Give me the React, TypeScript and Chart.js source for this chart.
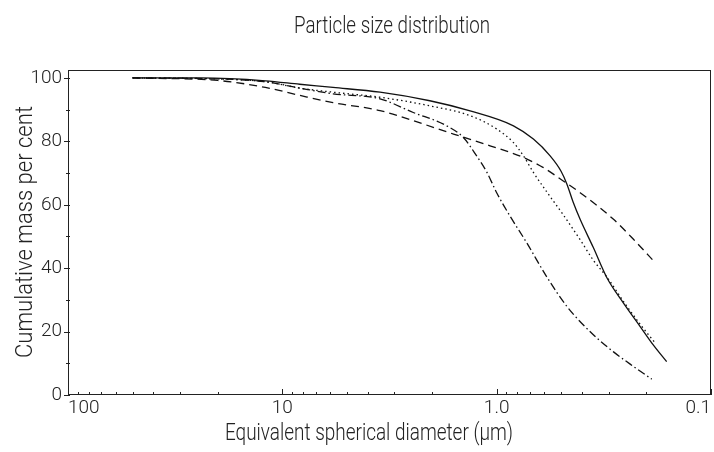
import React, { useEffect, useRef } from "react";
import { Chart, registerables } from "chart.js";

Chart.register(...registerables);

const TITLE = "Particle size distribution";
const X_TITLE = "Equivalent spherical diameter (\u00b5m)";
const Y_TITLE = "Cumulative mass per cent";

const X_TICKS = [0.1, 1, 10, 100];
const X_TICK_LABELS = ["0.1", "1.0", "10", "100"];
const Y_TICKS = [0, 20, 40, 60, 80, 100];

// Sample A (solid)
const solidDiam = [50, 24, 12, 8.3, 5.8, 3.5, 2.05, 1.33, 0.835, 0.674, 0.563, 0.5, 0.47, 0.439, 0.408, 0.354, 0.306, 0.256, 0.214, 0.186, 0.161];
const solidMass = [100, 100, 99.1, 98, 97, 95.5, 92.8, 89.6, 84.9, 80.7, 75.4, 70.5, 66.5, 60.7, 55.4, 46.5, 37, 29, 21.6, 15.8, 10.5];

// Sample B (dotted)
const dottedDiam = [50, 24, 12, 8.3, 5.8, 3.5, 2.05, 1.33, 1.0, 0.835, 0.75, 0.674, 0.58, 0.497, 0.408, 0.354, 0.306, 0.25, 0.21, 0.182];
const dottedMass = [100, 99.8, 98.8, 96.8, 95.5, 93.9, 91.2, 88.1, 83.9, 79.6, 75.4, 70.2, 63.8, 57.5, 49, 42.5, 37.2, 28.5, 21.6, 16.4];

// Sample C (dashed)
const dashedDiam = [50, 20, 12, 8.3, 5.8, 3.5, 2.45, 1.59, 1.074, 0.75, 0.605, 0.489, 0.408, 0.285, 0.23, 0.182];
const dashedMass = [100, 99.2, 97, 94.5, 92.2, 89.7, 86.5, 82.3, 78.6, 74.9, 71.7, 67.5, 63.8, 55.4, 49.1, 41.7];

// Sample D (dash-dot)
const dashDotDiam = [50, 24, 12, 8.3, 5.8, 3.5, 2.45, 1.71, 1.43, 1.24, 1.11, 1.0, 0.866, 0.724, 0.583, 0.471, 0.354, 0.285, 0.23, 0.189];
const dashDotMass = [100, 99.8, 98.8, 96.8, 95, 93.4, 89.1, 84.9, 81.2, 75.4, 70.2, 63.8, 56.4, 48, 37.2, 28, 19, 13.6, 9, 5];

const FONT = 'Roboto, "Liberation Sans", sans-serif';
const INK = "#222";
const TEXT = "#222";

const pts = (d: number[], v: number[]) => d.map((x, i) => ({ x, y: v[i] }));

const fitText = (ctx: any, text: string, x: number, y: number, width: number) => {
  const w = ctx.measureText(text).width;
  ctx.save();
  ctx.translate(x, y);
  ctx.scale(width / w, 1);
  ctx.fillText(text, 0, 0);
  ctx.restore();
};

const framePlugin = {
  id: "frame",
  afterDraw(chart: any) {
    const { ctx, chartArea: a, scales } = chart;
    const xs = scales.x;
    const ys = scales.y;
    ctx.save();
    ctx.strokeStyle = INK;
    ctx.lineWidth = 1;
    ctx.strokeRect(a.left + 0.5, a.top + 0.5, a.right - a.left - 1, a.bottom - a.top - 1);
    ctx.beginPath();
    for (let dec = 0.1; dec < 99; dec *= 10) {
      for (let m = 1; m <= 10; m++) {
        const v = dec * m;
        const px = Math.round(xs.getPixelForValue(v)) + 0.5;
        const len = m === 1 || m === 10 ? 6 : 3;
        ctx.moveTo(px, a.bottom);
        ctx.lineTo(px, a.bottom - len);
      }
    }
    for (let v = 0; v <= 100; v += 10) {
      const py = Math.round(ys.getPixelForValue(v)) + 0.5;
      const major = v % 20 === 0;
      ctx.moveTo(a.left - (major ? 4 : 2), py);
      ctx.lineTo(a.left + 2, py);
    }
    ctx.stroke();

    ctx.fillStyle = TEXT;
    ctx.textAlign = "center";
    ctx.textBaseline = "alphabetic";
    ctx.font = `300 23px ${FONT}`;
    fitText(ctx, TITLE, 392, 33, 196);
    fitText(ctx, X_TITLE, 369, 440, 288);
    ctx.save();
    ctx.translate(32, 232);
    ctx.rotate(-Math.PI / 2);
    fitText(ctx, Y_TITLE, 0, 0, 252);
    ctx.restore();
    ctx.restore();
  },
};

export default function App() {
  const ref = useRef<HTMLCanvasElement | null>(null);

  useEffect(() => {
    if (!ref.current) return;
    const line = (label: string, d: number[], v: number[], dash: number[]) => ({
      label,
      data: pts(d, v),
      borderColor: "#111",
      backgroundColor: "#111",
      borderWidth: 1.3,
      borderDash: dash,
      pointRadius: 0,
      fill: false,
      cubicInterpolationMode: "monotone" as const,
    });
    const chart = new Chart(ref.current, {
      type: "line",
      data: {
        datasets: [
          line("A", solidDiam, solidMass, []),
          line("B", dottedDiam, dottedMass, [1.5, 3]),
          line("C", dashedDiam, dashedMass, [8, 5]),
          line("D", dashDotDiam, dashDotMass, [8, 3, 1.5, 3]),
        ],
      },
      options: {
        animation: false,
        responsive: true,
        maintainAspectRatio: false,
        layout: { padding: { left: 0, right: 3, top: 70, bottom: 0 } },
        plugins: {
          legend: { display: false },
          title: { display: false },
          tooltip: { enabled: false },
        },
        scales: {
          x: {
            type: "logarithmic",
            min: 0.1,
            max: 100,
            reverse: true,
            grid: { display: false, drawTicks: false },
            border: { display: false },
            afterBuildTicks: (s: any) => {
              s.ticks = X_TICKS.map((value) => ({ value }));
            },
            afterFit: (s: any) => {
              s.height = 57;
            },
            ticks: {
              autoSkip: false,
              maxRotation: 0,
              align: "inner",
              padding: 2,
              color: TEXT,
              font: { family: FONT, size: 19, weight: "300" },
              callback: (_v: any, i: number) => X_TICK_LABELS[i],
            },
          },
          y: {
            type: "linear",
            min: 0,
            max: 102.5,
            grid: { display: false, drawTicks: false },
            border: { display: false },
            afterBuildTicks: (s: any) => {
              s.ticks = Y_TICKS.map((value) => ({ value }));
            },
            afterFit: (s: any) => {
              s.width = 68;
            },
            ticks: {
              padding: 6,
              color: TEXT,
              font: { family: FONT, size: 19, weight: "300" },
              callback: (v: any) => String(v),
            },
          },
        },
      },
      plugins: [framePlugin],
    });
    return () => chart.destroy();
  }, []);

  return (
    <div style={{ position: "fixed", left: 0, top: 0, width: 714, height: 452, background: "#fff" }}>
      <canvas ref={ref} />
    </div>
  );
}
